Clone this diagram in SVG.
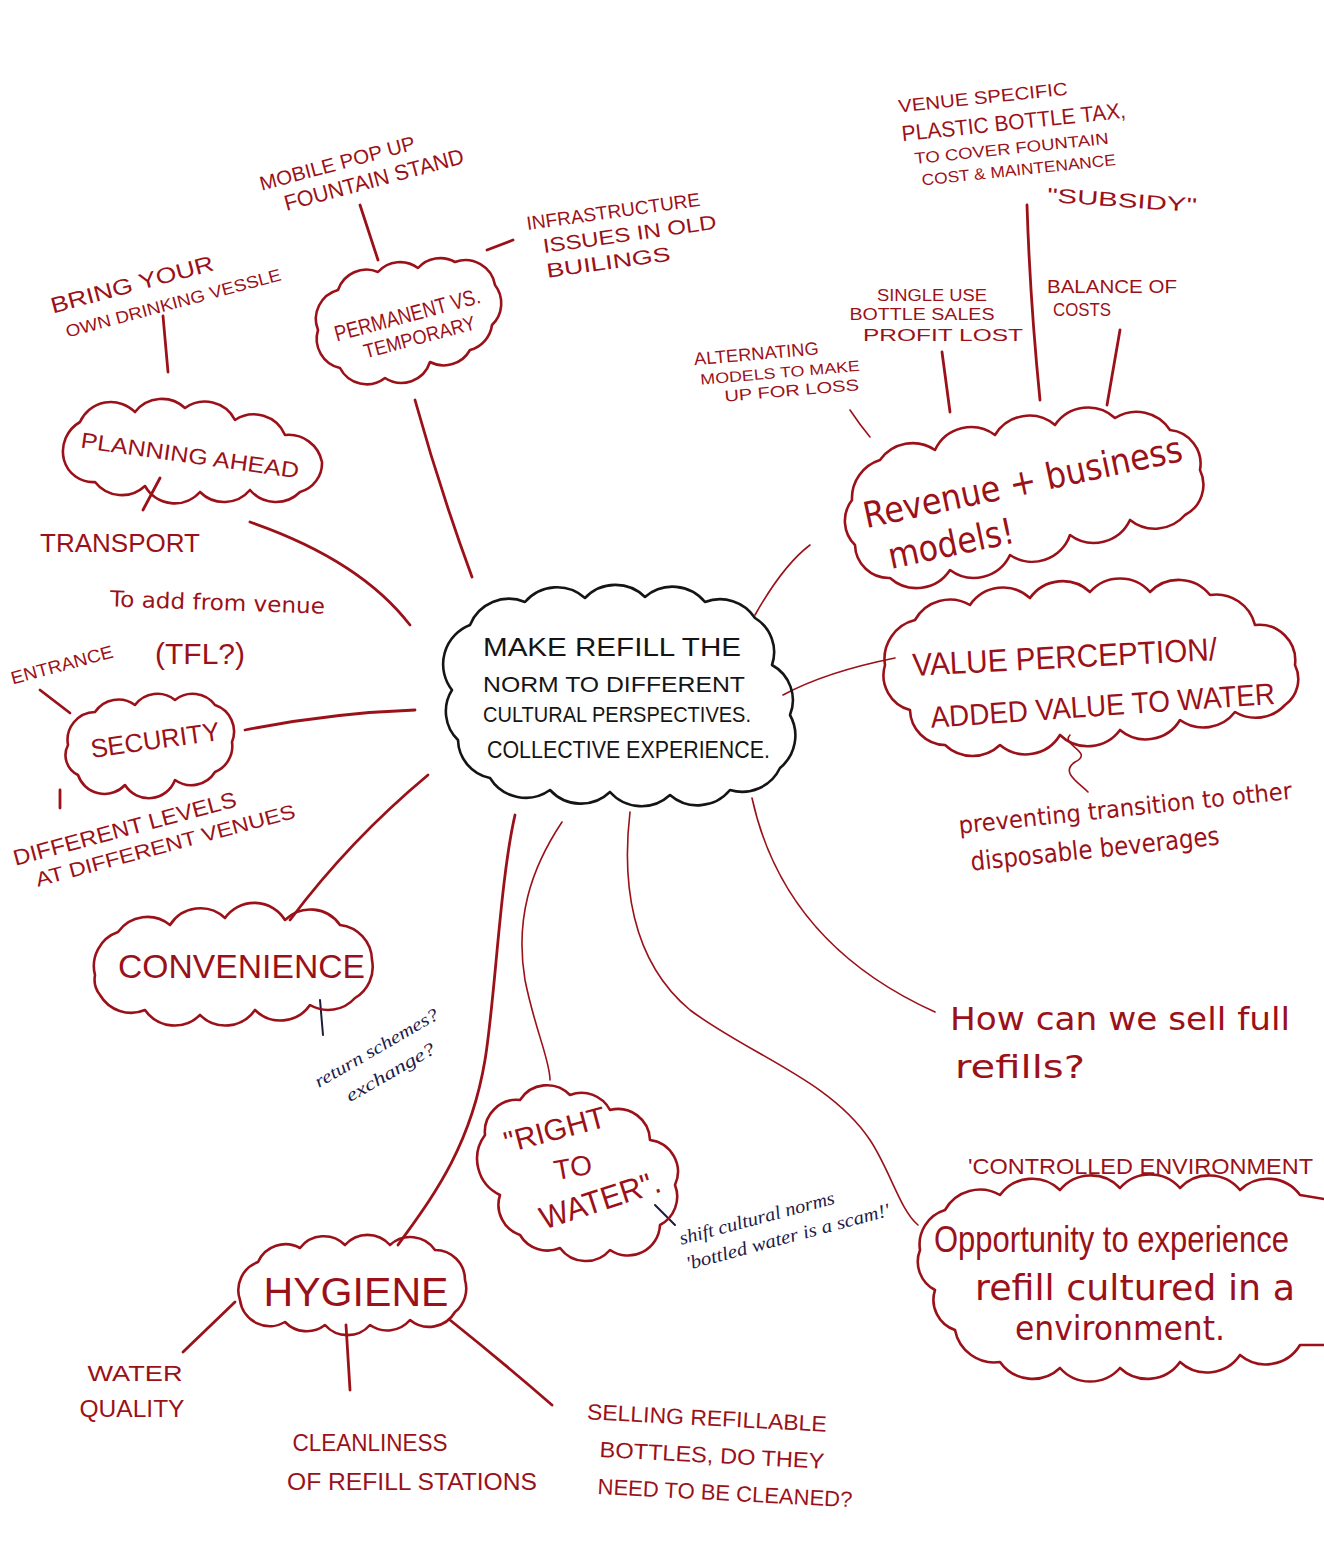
<svg xmlns="http://www.w3.org/2000/svg" width="1324" height="1556" viewBox="0 0 1324 1556">
<style>
.bg{fill:#ffffff}
.cloud{fill:none;stroke:#9b1119;stroke-width:2.6;stroke-linejoin:round;stroke-linecap:round}
.core{fill:none;stroke:#151515;stroke-width:2.6;stroke-linejoin:round}
.ln{fill:none;stroke:#9b1119;stroke-width:2.8;stroke-linecap:round}
.thin{fill:none;stroke:#9b1119;stroke-width:1.6;stroke-linecap:round}
.ink{fill:none;stroke:#1c1c3c;stroke-width:2;stroke-linecap:round}
text{font-family:"Liberation Sans",Arial,sans-serif;fill:#9b1119}
.c{text-anchor:middle}
.blk{fill:#151515}
.navy{fill:#1c1c4a;font-family:"Liberation Serif","DejaVu Serif",serif;font-style:italic}
.hand{font-family:"DejaVu Sans","Liberation Sans",sans-serif}
</style>
<rect class="bg" x="0" y="0" width="1324" height="1556"/>

<g id="connectors">
<path class="ln" d="M163,316 L168,372"/>
<path class="ln" d="M360,205 L378,260"/>
<path class="ln" d="M487,250 L513,240"/>
<path class="ln" d="M415,400 Q440,490 472,577"/>
<path class="ln" d="M160,478 L143,510"/>
<path class="ln" d="M250,522 Q360,560 410,625"/>
<path class="ln" d="M40,690 L70,713"/>
<path class="ln" d="M245,730 Q330,713 415,710"/>
<path class="ln" d="M60,790 L60,808"/>
<path class="ln" d="M428,775 Q350,840 290,920"/>
<path class="ink" d="M320,1000 L323,1035"/>
<path class="ln" d="M515,815 C500,880 495,1000 485,1060 C470,1150 430,1200 398,1245"/>
<path class="thin" d="M562,822 C530,870 515,920 525,980 C535,1030 550,1060 550,1080"/>
<path class="thin" d="M630,812 C622,880 630,960 690,1010 C750,1055 830,1080 870,1140 C890,1170 900,1210 918,1225"/>
<path class="thin" d="M752,798 C770,880 820,960 935,1012"/>
<path class="thin" d="M783,695 C820,675 860,665 895,658"/>
<path class="thin" d="M755,615 C772,585 790,560 810,545"/>
<path class="thin" d="M1070,735 C1060,745 1095,752 1075,762 C1060,772 1078,782 1088,792"/>
<path class="thin" d="M850,410 Q860,425 870,437"/>
<path class="ln" d="M942,352 L950,412"/>
<path class="ln" d="M1027,205 Q1030,300 1040,400"/>
<path class="ln" d="M1120,330 L1107,405"/>
<path class="ln" d="M235,1302 L183,1352"/>
<path class="ln" d="M346,1325 L350,1390"/>
<path class="ln" d="M450,1320 Q500,1360 552,1405"/>
<path class="ink" d="M655,1205 L675,1225"/>
</g>

<g id="center">
<path class="core" d="M452,690 A42,42 0 0 1 470,625 A42,42 0 0 1 525,602 A42,42 0 0 1 585,598 A42,42 0 0 1 645,597 A42,42 0 0 1 705,602 A42,42 0 0 1 755,618 A40,40 0 0 1 772,665 A40,40 0 0 1 790,715 A42,42 0 0 1 780,768 A42,42 0 0 1 730,790 A42,42 0 0 1 670,795 A42,42 0 0 1 610,792 A42,42 0 0 1 550,790 A42,42 0 0 1 490,778 A40,40 0 0 1 458,740 A40,40 0 0 1 452,690 Z"/>
<text class="blk" x="483" y="656" font-size="26" textLength="258" lengthAdjust="spacingAndGlyphs">MAKE REFILL THE</text>
<text class="blk" x="483" y="692" font-size="22" textLength="262" lengthAdjust="spacingAndGlyphs">NORM TO DIFFERENT</text>
<text class="blk" x="483" y="722" font-size="22" textLength="268" lengthAdjust="spacingAndGlyphs">CULTURAL PERSPECTIVES.</text>
<text class="blk" x="487" y="758" font-size="24" textLength="283" lengthAdjust="spacingAndGlyphs">COLLECTIVE EXPERIENCE.</text>
</g>

<g id="permanent">
<path class="cloud" d="M318,330 A30,30 0 0 1 338,290 A30,30 0 0 1 378,272 A30,30 0 0 1 418,268 A30,30 0 0 1 455,262 A30,30 0 0 1 495,285 A30,30 0 0 1 492,325 A30,30 0 0 1 470,350 A30,30 0 0 1 430,362 A30,30 0 0 1 385,378 A30,30 0 0 1 340,368 A30,30 0 0 1 318,330 Z"/>
<g transform="rotate(-15 410 325)">
<text class="c" x="410" y="322" font-size="22" textLength="150" lengthAdjust="spacingAndGlyphs">PERMANENT VS.</text>
<text class="c" x="416" y="346" font-size="20" textLength="115" lengthAdjust="spacingAndGlyphs">TEMPORARY</text>
</g>
</g>

<g id="mobile">
<g transform="rotate(-15 355 175)">
<text class="c" x="341" y="166" font-size="20" textLength="160" lengthAdjust="spacingAndGlyphs">MOBILE POP UP</text>
<text class="c" x="372" y="192" font-size="22" textLength="185" lengthAdjust="spacingAndGlyphs">FOUNTAIN STAND</text>
</g>
</g>

<g id="infrastructure">
<g transform="rotate(-8 615 238)">
<text class="c" x="617" y="218" font-size="19" textLength="175" lengthAdjust="spacingAndGlyphs">INFRASTRUCTURE</text>
<text class="c" x="630" y="243" font-size="20" textLength="175" lengthAdjust="spacingAndGlyphs">ISSUES IN OLD</text>
<text class="c" x="605" y="268" font-size="20" textLength="125" lengthAdjust="spacingAndGlyphs">BUILINGS</text>
</g>
</g>

<g id="bring">
<g transform="rotate(-15 160 292)">
<text class="c" x="135" y="285" font-size="22" textLength="168" lengthAdjust="spacingAndGlyphs">BRING YOUR</text>
<text class="c" x="170" y="312" font-size="17" textLength="222" lengthAdjust="spacingAndGlyphs">OWN DRINKING VESSLE</text>
</g>
</g>

<g id="planning">
<path class="cloud" d="M64,460 A34,34 0 0 1 80,422 A34,34 0 0 1 135,412 A34,34 0 0 1 185,408 A34,34 0 0 1 235,420 A34,34 0 0 1 285,435 A34,34 0 0 1 322,462 A30,30 0 0 1 300,492 A34,34 0 0 1 250,490 A34,34 0 0 1 200,492 A34,34 0 0 1 145,486 A34,34 0 0 1 95,482 A30,30 0 0 1 64,460 Z"/>
<text class="c" x="190" y="463" font-size="22" textLength="220" lengthAdjust="spacingAndGlyphs" transform="rotate(8 190 455)">PLANNING AHEAD</text>
</g>

<g id="transport">
<text x="40" y="552" font-size="26" textLength="160" lengthAdjust="spacingAndGlyphs">TRANSPORT</text>
</g>

<g id="toadd">
<text class="hand" x="110" y="610" font-size="22" textLength="215" lengthAdjust="spacingAndGlyphs" transform="rotate(2 215 603)">To add from venue</text>
<text x="155" y="664" font-size="30" textLength="90" lengthAdjust="spacingAndGlyphs">(TFL?)</text>
</g>

<g id="entrance">
<text class="c" x="62" y="671" font-size="18" textLength="105" lengthAdjust="spacingAndGlyphs" transform="rotate(-15 62 665)">ENTRANCE</text>
</g>

<g id="security">
<path class="cloud" d="M68,745 A28,28 0 0 1 95,712 A28,28 0 0 1 135,705 A28,28 0 0 1 175,700 A28,28 0 0 1 215,705 A28,28 0 0 1 232,742 A28,28 0 0 1 215,772 A28,28 0 0 1 175,780 A28,28 0 0 1 125,785 A28,28 0 0 1 78,775 A22,22 0 0 1 68,745 Z"/>
<text class="c" x="155" y="749" font-size="26" textLength="130" lengthAdjust="spacingAndGlyphs" transform="rotate(-8 155 740)">SECURITY</text>
</g>

<g id="levels">
<g transform="rotate(-15 150 838)">
<text class="c" x="128" y="830" font-size="22" textLength="230" lengthAdjust="spacingAndGlyphs">DIFFERENT LEVELS</text>
<text class="c" x="163" y="856" font-size="20" textLength="268" lengthAdjust="spacingAndGlyphs">AT DIFFERENT VENUES</text>
</g>
</g>

<g id="convenience">
<path class="cloud" d="M95,975 A36,36 0 0 1 118,932 A36,36 0 0 1 170,925 A36,36 0 0 1 225,918 A36,36 0 0 1 285,920 A36,36 0 0 1 340,925 A36,36 0 0 1 372,960 A36,36 0 0 1 355,998 A36,36 0 0 1 310,1005 A36,36 0 0 1 255,1010 A36,36 0 0 1 200,1015 A36,36 0 0 1 145,1010 A36,36 0 0 1 100,995 A25,25 0 0 1 95,975 Z"/>
<text x="118" y="978" font-size="34" textLength="247" lengthAdjust="spacingAndGlyphs">CONVENIENCE</text>
</g>

<g id="return">
<g transform="rotate(-30 388 1062)">
<text class="navy c" x="385" y="1050" font-size="18" textLength="140" lengthAdjust="spacingAndGlyphs">return schemes?</text>
<text class="navy c" x="385" y="1078" font-size="18" textLength="100" lengthAdjust="spacingAndGlyphs">exchange?</text>
</g>
</g>

<g id="right-to-water">
<path class="cloud" d="M485,1135 A32,32 0 0 1 520,1100 A32,32 0 0 1 570,1095 A32,32 0 0 1 610,1110 A32,32 0 0 1 650,1140 A32,32 0 0 1 675,1185 A32,32 0 0 1 660,1225 A32,32 0 0 1 610,1250 A32,32 0 0 1 560,1248 A32,32 0 0 1 520,1235 A32,32 0 0 1 500,1195 A40,40 0 0 1 485,1135 Z"/>
<text class="c" x="555" y="1140" font-size="30" transform="rotate(-15 555 1130)">"RIGHT</text>
<text class="c" x="573" y="1177" font-size="28" transform="rotate(-10 573 1168)">TO</text>
<text class="c" x="600" y="1211" font-size="32" textLength="125" lengthAdjust="spacingAndGlyphs" transform="rotate(-18 600 1200)">WATER".</text>
</g>

<g id="shift">
<g transform="rotate(-15 775 1228)">
<text class="navy c" x="760" y="1220" font-size="19" textLength="160" lengthAdjust="spacingAndGlyphs">shift cultural norms</text>
<text class="navy c" x="785" y="1246" font-size="19" textLength="210" lengthAdjust="spacingAndGlyphs">'bottled water is a scam!'</text>
</g>
</g>

<g id="sell-full">
<text class="hand" x="950" y="1030" font-size="32" textLength="340" lengthAdjust="spacingAndGlyphs">How can we sell full</text>
<text class="hand" x="955" y="1078" font-size="32" textLength="130" lengthAdjust="spacingAndGlyphs">refills?</text>
</g>

<g id="opportunity">
<text x="968" y="1174" font-size="22" textLength="345" lengthAdjust="spacingAndGlyphs">'CONTROLLED ENVIRONMENT</text>
<path class="cloud" d="M1330,1345 L1300,1345 A40,40 0 0 1 1240,1355 A40,40 0 0 1 1180,1362 A40,40 0 0 1 1120,1368 A40,40 0 0 1 1060,1368 A40,40 0 0 1 1000,1362 A40,40 0 0 1 955,1330 A32,32 0 0 1 935,1290 A32,32 0 0 1 920,1250 A36,36 0 0 1 945,1210 A40,40 0 0 1 1000,1195 A40,40 0 0 1 1060,1190 A40,40 0 0 1 1120,1188 A40,40 0 0 1 1180,1188 A40,40 0 0 1 1240,1190 A40,40 0 0 1 1300,1195 L1330,1200"/>
<text x="0" y="0" font-size="30" textLength="355" lengthAdjust="spacingAndGlyphs" transform="translate(934 1252) scale(1 1.25)">Opportunity to experience</text>
<text class="hand" x="975" y="1300" font-size="36" textLength="320" lengthAdjust="spacingAndGlyphs">refill cultured in a</text>
<text class="hand" x="1015" y="1340" font-size="34" textLength="210" lengthAdjust="spacingAndGlyphs">environment.</text>
</g>

<g id="value">
<path class="cloud" d="M885,665 A40,40 0 0 1 915,620 A40,40 0 0 1 970,605 A40,40 0 0 1 1030,598 A40,40 0 0 1 1090,592 A40,40 0 0 1 1150,592 A40,40 0 0 1 1210,595 A40,40 0 0 1 1255,625 A36,36 0 0 1 1295,665 A32,32 0 0 1 1285,705 A40,40 0 0 1 1235,712 A40,40 0 0 1 1180,720 A40,40 0 0 1 1120,730 A40,40 0 0 1 1060,735 A40,40 0 0 1 1000,745 A40,40 0 0 1 945,745 A36,36 0 0 1 910,710 A36,36 0 0 1 885,665 Z"/>
<text x="912" y="668" font-size="32" textLength="305" lengthAdjust="spacingAndGlyphs" transform="rotate(-3 1065 655)">VALUE PERCEPTION/</text>
<text x="930" y="716" font-size="30" textLength="345" lengthAdjust="spacingAndGlyphs" transform="rotate(-4 1100 703)">ADDED VALUE TO WATER</text>
</g>

<g id="preventing">
<g transform="rotate(-6 1110 830)">
<text class="hand" x="960" y="818" font-size="24" textLength="335" lengthAdjust="spacingAndGlyphs">preventing transition to other</text>
<text class="hand" x="968" y="856" font-size="26" textLength="250" lengthAdjust="spacingAndGlyphs">disposable beverages</text>
</g>
</g>

<g id="revenue">
<path class="cloud" d="M852,500 A40,40 0 0 1 880,460 A40,40 0 0 1 935,450 A40,40 0 0 1 995,435 A40,40 0 0 1 1055,425 A40,40 0 0 1 1115,418 A40,40 0 0 1 1170,430 A34,34 0 0 1 1200,470 A34,34 0 0 1 1185,515 A40,40 0 0 1 1130,520 A40,40 0 0 1 1070,535 A40,40 0 0 1 1010,555 A40,40 0 0 1 950,570 A40,40 0 0 1 890,578 A34,34 0 0 1 855,545 A34,34 0 0 1 852,500 Z"/>
<g transform="rotate(-12 1000 510)">
<text class="hand c" x="1028" y="500" font-size="36" textLength="325" lengthAdjust="spacingAndGlyphs">Revenue + business</text>
<text class="hand c" x="945" y="545" font-size="36" textLength="128" lengthAdjust="spacingAndGlyphs">models!</text>
</g>
</g>

<g id="alternating">
<g transform="rotate(-5 778 372)">
<text class="c" x="758" y="358" font-size="18" textLength="125" lengthAdjust="spacingAndGlyphs">ALTERNATING</text>
<text class="c" x="780" y="378" font-size="15" textLength="160" lengthAdjust="spacingAndGlyphs">MODELS TO MAKE</text>
<text class="c" x="790" y="397" font-size="16" textLength="135" lengthAdjust="spacingAndGlyphs">UP FOR LOSS</text>
</g>
</g>

<g id="single-use">
<text class="c" x="932" y="301" font-size="16" textLength="110" lengthAdjust="spacingAndGlyphs">SINGLE USE</text>
<text class="c" x="922" y="320" font-size="16" textLength="145" lengthAdjust="spacingAndGlyphs">BOTTLE SALES</text>
<text class="c" x="943" y="341" font-size="17" textLength="160" lengthAdjust="spacingAndGlyphs">PROFIT LOST</text>
</g>

<g id="venue-tax">
<g transform="rotate(-6 1010 135)">
<text class="c" x="987" y="101" font-size="18" textLength="170" lengthAdjust="spacingAndGlyphs">VENUE SPECIFIC</text>
<text class="c" x="1015" y="130" font-size="22" textLength="225" lengthAdjust="spacingAndGlyphs">PLASTIC BOTTLE TAX,</text>
<text class="c" x="1010" y="154" font-size="16" textLength="195" lengthAdjust="spacingAndGlyphs">TO COVER FOUNTAIN</text>
<text class="c" x="1015" y="176" font-size="16" textLength="195" lengthAdjust="spacingAndGlyphs">COST &amp; MAINTENANCE</text>
</g>
<text class="c" x="1122" y="207" font-size="20" textLength="150" lengthAdjust="spacingAndGlyphs" transform="rotate(4 1122 200)">"SUBSIDY"</text>
</g>

<g id="balance">
<text class="c" x="1112" y="293" font-size="18" textLength="130" lengthAdjust="spacingAndGlyphs">BALANCE OF</text>
<text class="c" x="1082" y="316" font-size="18" textLength="58" lengthAdjust="spacingAndGlyphs">COSTS</text>
</g>

<g id="hygiene">
<path class="cloud" d="M240,1300 A30,30 0 0 1 258,1262 A30,30 0 0 1 300,1248 A30,30 0 0 1 345,1245 A30,30 0 0 1 390,1245 A30,30 0 0 1 435,1250 A30,30 0 0 1 465,1280 A30,30 0 0 1 455,1312 A30,30 0 0 1 410,1320 A30,30 0 0 1 370,1325 A30,30 0 0 1 325,1325 A30,30 0 0 1 285,1322 A30,30 0 0 1 240,1300 Z"/>
<text class="c" x="356" y="1306" font-size="40" textLength="185" lengthAdjust="spacingAndGlyphs">HYGIENE</text>
</g>

<g id="water-quality">
<text class="c" x="135" y="1381" font-size="22" textLength="95" lengthAdjust="spacingAndGlyphs">WATER</text>
<text class="c" x="132" y="1417" font-size="24" textLength="105" lengthAdjust="spacingAndGlyphs">QUALITY</text>
</g>

<g id="cleanliness">
<text class="c" x="370" y="1451" font-size="24" textLength="155" lengthAdjust="spacingAndGlyphs">CLEANLINESS</text>
<text class="c" x="412" y="1490" font-size="24" textLength="250" lengthAdjust="spacingAndGlyphs">OF REFILL STATIONS</text>
</g>

<g id="selling">
<g transform="rotate(3 715 1455)">
<text class="c" x="705" y="1426" font-size="22" textLength="240" lengthAdjust="spacingAndGlyphs">SELLING REFILLABLE</text>
<text class="c" x="712" y="1463" font-size="22" textLength="225" lengthAdjust="spacingAndGlyphs">BOTTLES, DO THEY</text>
<text class="c" x="727" y="1500" font-size="22" textLength="255" lengthAdjust="spacingAndGlyphs">NEED TO BE CLEANED?</text>
</g>
</g>
</svg>
